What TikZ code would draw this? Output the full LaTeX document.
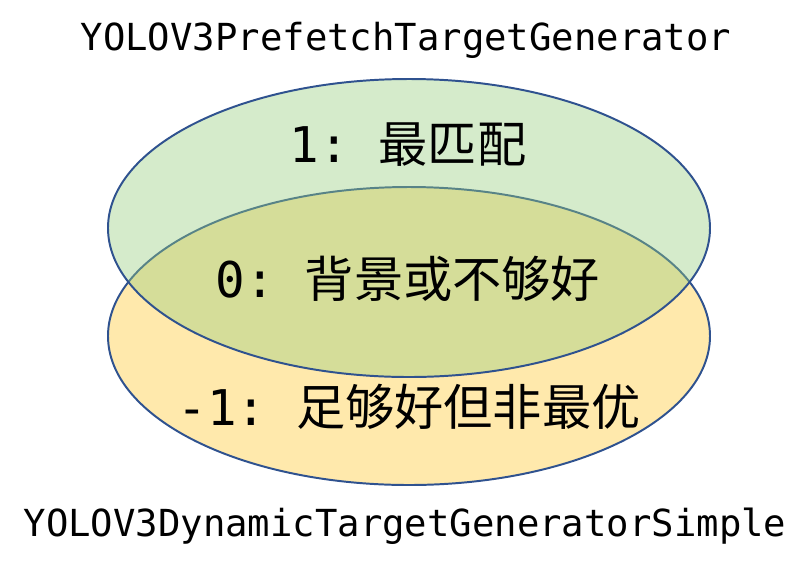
\documentclass[tikz,border=0pt]{standalone}
\usepackage{fontspec}
\newfontfamily\codefont{DejaVu Sans Mono}
\newfontfamily\cjk{Noto Sans CJK SC}

\definecolor{edgeblue}{RGB}{47,82,143}
\definecolor{matchgreen}{RGB}{150,205,125}
\definecolor{goodyellow}{RGB}{255,233,172}

\begin{document}
\begin{tikzpicture}[x=0.025cm, y=-0.025cm,
    ring/.style={draw=edgeblue, line width=1.4pt},
    gen/.style={font=\codefont\fontsize{26.5}{30}\selectfont},
    lab/.style={font=\codefont\fontsize{35}{40}\selectfont}]
    \useasboundingbox (0,0) rectangle (810,575);

    % Define the centres of the two ellipses
    \coordinate (P) at (409,228);
    \coordinate (D) at (409,336);

    % Draw the ellipses, the upper one see-through
    \draw[ring, fill=goodyellow] (D) ellipse [x radius=301, y radius=149];
    \draw[ring, fill=matchgreen, fill opacity=0.4] (P) ellipse [x radius=301, y radius=149];

    % Place the generator names
    \node[gen] (prefetch) at (406,40) {YOLOV3PrefetchTargetGenerator};
    \node[gen] (dynamic) at (405,526) {YOLOV3DynamicTargetGeneratorSimple};

    % Place the labels of the regions
    \node[lab] (best) at (408,145) {1:\ {\cjk 最匹配}};
    \node[lab] (bg) at (408,279) {0:\ {\cjk 背景或不够好}};
    \node[lab] (ok) at (409,407) {-1:\ {\cjk 足够好但非最优}};
\end{tikzpicture}
\end{document}
